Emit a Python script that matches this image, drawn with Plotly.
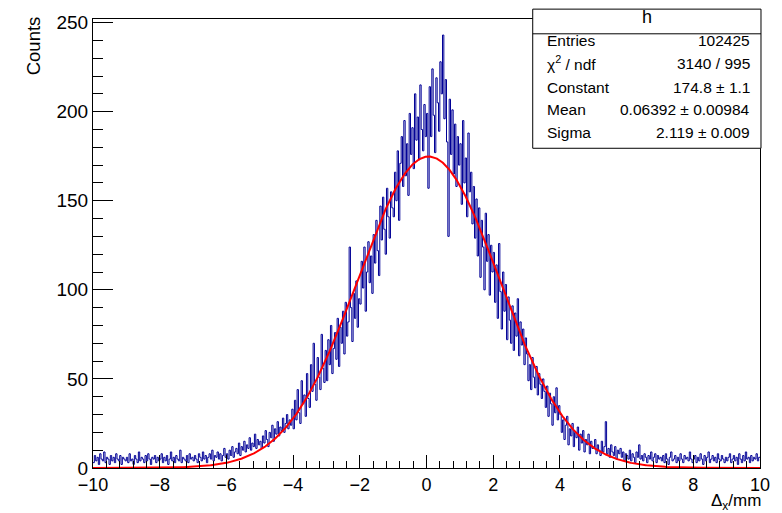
import numpy as np
import plotly.graph_objects as go

# Histogram range for Δx
x_min, x_max = -10.0, 10.0

# Bin contents, 25 bins per unit of Δx (from -10 to 10)
counts = [
    3, 7, 4, 6, 2, 8, 5, 4, 9, 3, 6, 5, 2, 7, 4, 6, 3, 8, 5, 4, 7, 2, 6, 5, 4,
    6, 3, 8, 4, 5, 2, 7, 5, 3, 9, 4, 6, 5, 3, 7, 4, 8, 5, 2, 6, 5, 7, 3, 6, 4,
    5, 8, 3, 6, 4, 7, 2, 5, 9, 4, 6, 3, 7, 5, 4, 10, 3, 6, 5, 4, 7, 3, 8, 5, 6,
    4, 7, 5, 3, 8, 6, 4, 9, 5, 7, 3, 6, 8, 5, 10, 4, 7, 6, 9, 5, 8, 4, 7, 11, 6,
    8, 5, 10, 7, 12, 6, 9, 11, 8, 14, 7, 12, 10, 15, 9, 13, 11, 17, 10, 14, 12, 19, 11, 16, 13,
    15, 11, 18, 14, 21, 16, 12, 20, 17, 24, 15, 22, 19, 26, 18, 23, 21, 28, 20, 25, 30, 22, 27, 24, 33,
    22, 38, 27, 44, 31, 25, 49, 36, 41, 29, 53, 39, 34, 58, 43, 70, 47, 38, 62, 51, 44, 75, 56, 48, 66,
    49, 72, 58, 80, 53, 67, 76, 61, 84, 57, 79, 70, 88, 64, 93, 74, 82, 124, 90, 71, 98, 84, 105, 79, 95,
    92, 116, 101, 124, 88, 110, 127, 104, 119, 98, 131, 115, 139, 122, 108, 147, 128, 152, 134, 120, 157, 141, 129, 155, 146,
    141, 166, 150, 178, 139, 171, 186, 158, 195, 164, 182, 153, 199, 176, 191, 168, 210, 184, 197, 173, 215, 190, 178, 204, 186,
    199, 157, 214, 186, 224, 198, 177, 219, 205, 189, 228, 210, 243, 196, 218, 183, 130, 207, 176, 201, 165, 193, 158, 186, 170,
    182, 148, 195, 160, 174, 141, 188, 155, 166, 137, 158, 129, 151, 119, 146, 107, 139, 124, 100, 143, 116, 131, 97, 125, 110,
    121, 93, 114, 84, 126, 99, 78, 110, 88, 103, 72, 96, 83, 70, 91, 66, 87, 74, 95, 63, 82, 69, 78, 58, 73,
    64, 49, 58, 44, 62, 51, 45, 57, 41, 53, 47, 39, 50, 43, 34, 46, 29, 42, 36, 24, 40, 31, 45, 27, 35,
    30, 20, 27, 16, 24, 29, 13, 22, 18, 25, 12, 20, 17, 23, 10, 19, 14, 21, 9, 16, 13, 19, 8, 15, 11,
    11, 16, 8, 13, 10, 7, 15, 9, 12, 26, 8, 11, 6, 13, 9, 7, 12, 5, 10, 8, 11, 6, 9, 4, 8,
    7, 5, 10, 4, 8, 6, 3, 9, 6, 13, 5, 7, 4, 8, 6, 3, 7, 5, 9, 4, 6, 8, 3, 7, 5,
    6, 4, 7, 3, 8, 5, 2, 6, 9, 4, 5, 7, 3, 6, 4, 8, 5, 3, 7, 5, 6, 4, 9, 5, 3,
    5, 7, 3, 6, 4, 8, 5, 2, 7, 4, 6, 9, 3, 5, 7, 4, 6, 3, 8, 5, 4, 7, 5, 3, 6,
    4, 6, 8, 3, 5, 7, 4, 6, 2, 8, 5, 3, 7, 4, 9, 5, 6, 3, 7, 4, 6, 5, 8, 4, 6,
]

# Gaussian fit parameters (stat box)
hist_name = "h"
entries = 102425
chi2, ndf = 3140, 995
fit_const, fit_const_err = 174.8, 1.1
fit_mean, fit_mean_err = 0.06392, 0.00984
fit_sigma, fit_sigma_err = 2.119, 0.009

n_bins = len(counts)
edges = np.linspace(x_min, x_max, n_bins + 1)
step_x = list(edges)
step_y = list(counts) + [counts[-1]]

xf = np.linspace(x_min, x_max, 1000)
yf = fit_const * np.exp(-0.5 * ((xf - fit_mean) / fit_sigma) ** 2)

FONT = "Liberation Sans, Arial, Helvetica, sans-serif"

fig = go.Figure()
fig.add_trace(go.Scatter(
    x=step_x, y=step_y, mode="lines", line=dict(color="#000096", width=1, shape="hv"),
    hoverinfo="skip", showlegend=False,
))
fig.add_trace(go.Scatter(
    x=xf, y=yf, mode="lines", line=dict(color="#ff0000", width=2),
    hoverinfo="skip", showlegend=False,
))

# Frame geometry in pixels
W, H = 782, 513
L, R, T, B = 93, 768, 13, 468


def px_x(px):
    return (px - L) / (R - L)


def px_y(py):
    return (B - py) / (B - T)


fig.update_layout(
    width=W, height=H,
    margin=dict(l=L, r=W - R, t=T, b=H - B, pad=0),
    paper_bgcolor="white", plot_bgcolor="white",
    font=dict(family=FONT, size=19, color="black"),
    xaxis=dict(
        range=[x_min, x_max], dtick=2, tick0=0, showgrid=False, zeroline=False,
        showline=True, linecolor="black", linewidth=1, mirror=True,
        ticks="inside", ticklen=13, tickwidth=1, tickcolor="black",
        minor=dict(ticks="inside", dtick=0.4, ticklen=7, tickcolor="black", showgrid=False),
        tickfont=dict(size=18),
    ),
    yaxis=dict(
        range=[0, 252], dtick=50, tick0=0, showgrid=False, zeroline=False,
        showline=True, linecolor="black", linewidth=1, mirror=True,
        ticks="inside", ticklen=20, tickwidth=1, tickcolor="black",
        minor=dict(ticks="inside", dtick=10, ticklen=10, tickcolor="black", showgrid=False),
        tickfont=dict(size=19),
    ),
)

annotations = []
annotations.append(dict(
    text="Counts", textangle=-90, x=px_x(33), y=px_y(8), xref="paper", yref="paper",
    xanchor="center", yanchor="top", showarrow=False, font=dict(size=18.5),
))
annotations.append(dict(
    text="Δ<sub>x</sub>/mm", x=px_x(771), y=px_y(489), xref="paper", yref="paper",
    xanchor="right", yanchor="top", showarrow=False, font=dict(size=17),
))

# Statistics box
bx0, bx1, by0, by1, by_head = 538, 769, 3, 144, 28
shapes = [
    dict(type="rect", xref="paper", yref="paper", x0=px_x(bx0), x1=px_x(bx1),
         y0=px_y(by1), y1=px_y(by0), line=dict(color="black", width=1), fillcolor="white"),
    dict(type="line", xref="paper", yref="paper", x0=px_x(bx0), x1=px_x(bx1),
         y0=px_y(by_head), y1=px_y(by_head), line=dict(color="black", width=1)),
]
annotations.append(dict(
    text=hist_name, x=px_x((bx0 + bx1) / 2), y=px_y(11), xref="paper", yref="paper",
    xanchor="center", yanchor="middle", showarrow=False, font=dict(size=18),
))
rows = [
    ("Entries", f"{entries}"),
    ("χ<sup>2</sup> / ndf", f"{chi2} / {ndf}"),
    ("Constant", f"{fit_const} ± {fit_const_err}"),
    ("Mean", f"{fit_mean} ± {fit_mean_err}"),
    ("Sigma", f"{fit_sigma} ± {fit_sigma_err}"),
]
row_y = [35, 58, 82, 105, 128]
for (lab, val), ry in zip(rows, row_y):
    annotations.append(dict(
        text=lab, x=px_x(550), y=px_y(ry), xref="paper", yref="paper",
        xanchor="left", yanchor="middle", showarrow=False, font=dict(size=15.5),
    ))
    annotations.append(dict(
        text=val, x=px_x(760), y=px_y(ry), xref="paper", yref="paper",
        xanchor="right", yanchor="middle", showarrow=False, font=dict(size=15.5),
    ))

fig.update_layout(annotations=annotations, shapes=shapes)
fig.write_html("out.html")
